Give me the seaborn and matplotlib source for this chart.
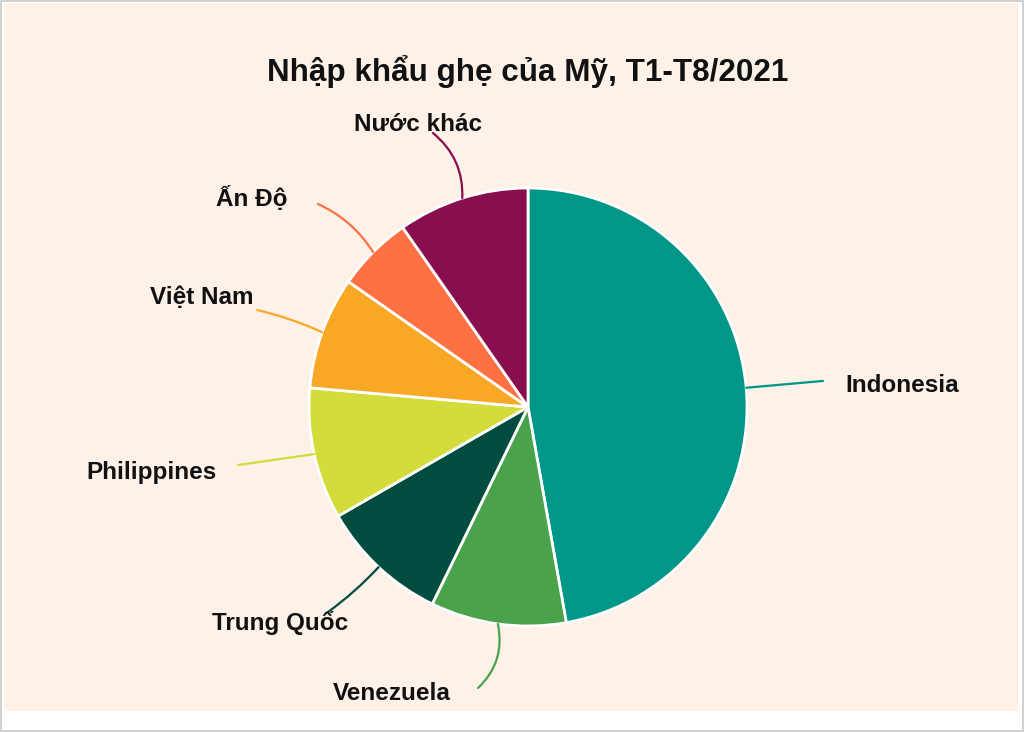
import matplotlib
matplotlib.use("Agg")
import matplotlib.pyplot as plt
import seaborn as sns
import numpy as np
from matplotlib.patches import Rectangle

# Data (share of US crab imports, %)
countries = ["Indonesia", "Venezuela", "Trung Quốc", "Philippines",
             "Việt Nam", "Ấn Độ", "Nước khác"]
shares = [47.2, 10.0, 9.5, 9.7, 8.3, 5.6, 9.7]
colors = ["#009688", "#4aa24a", "#004d40", "#d4dc3c",
          "#f9a825", "#ff7043", "#880e4f"]
title = "Nhập khẩu ghẹ của Mỹ, T1-T8/2021"

# label layout: (text x, text y, line end x, line end y, rad, ha)
label_layout = [
    (1.447, 0.096, 1.347, 0.119, 0.0, "left"),
    (-0.62, -1.306, -0.228, -1.283, 0.28, "center"),
    (-1.132, -0.986, -0.913, -0.936, 0.05, "center"),
    (-1.717, -0.297, -1.324, -0.265, 0.0, "center"),
    (-1.489, 0.498, -1.237, 0.443, -0.05, "center"),
    (-1.26, 0.954, -0.959, 0.927, -0.15, "center"),
    (-0.50, 1.288, -0.434, 1.251, -0.25, "center"),
]

sns.set_theme(style="white")
plt.rcParams["font.family"] = ["Liberation Sans", "DejaVu Sans"]

bg = "#fdf1e8"
fig = plt.figure(figsize=(10.24, 7.32), dpi=100, facecolor="white")
fig.patches.append(Rectangle((4 / 1024, 21 / 732), 1014 / 1024, 708 / 732,
                             transform=fig.transFigure, facecolor=bg,
                             edgecolor="none", zorder=-10))
fig.patches.append(Rectangle((0.5 / 1024, 1.5 / 732), 1022 / 1024, 729.5 / 732,
                             transform=fig.transFigure, facecolor="none",
                             edgecolor="#c8c8c8", lw=1.2, zorder=-9))

ax = fig.add_axes([0, 0, 1, 1])
ax.set_facecolor("none")

wedges, _ = ax.pie(shares, colors=colors, startangle=90, counterclock=False,
                   radius=1.0, wedgeprops=dict(edgecolor="white", linewidth=2))

ax.set_aspect("auto")
ax.set_xlim(-528 / 219, (1024 - 528) / 219)
ax.set_ylim(-(732 - 407) / 219, 407 / 219)
ax.axis("off")

for w, name, col, lay in zip(wedges, countries, colors, label_layout):
    tx, ty, lx, ly, rad, ha = lay
    mid = np.deg2rad((w.theta1 + w.theta2) / 2)
    ex, ey = np.cos(mid), np.sin(mid)
    ax.annotate("", xy=(ex, ey), xytext=(lx, ly),
                arrowprops=dict(arrowstyle="-", color=col, lw=1.6,
                                connectionstyle=f"arc3,rad={rad}",
                                shrinkA=0, shrinkB=0))
    ax.text(tx, ty, name, ha=ha, va="center", fontsize=17.5,
            fontweight="bold", color="#111111")

ax.text(0, (407 - 72) / 219, title, ha="center", va="center",
        fontsize=22.6, fontweight="bold", color="#111111")

fig.savefig("out.png", dpi=100, facecolor="white")
